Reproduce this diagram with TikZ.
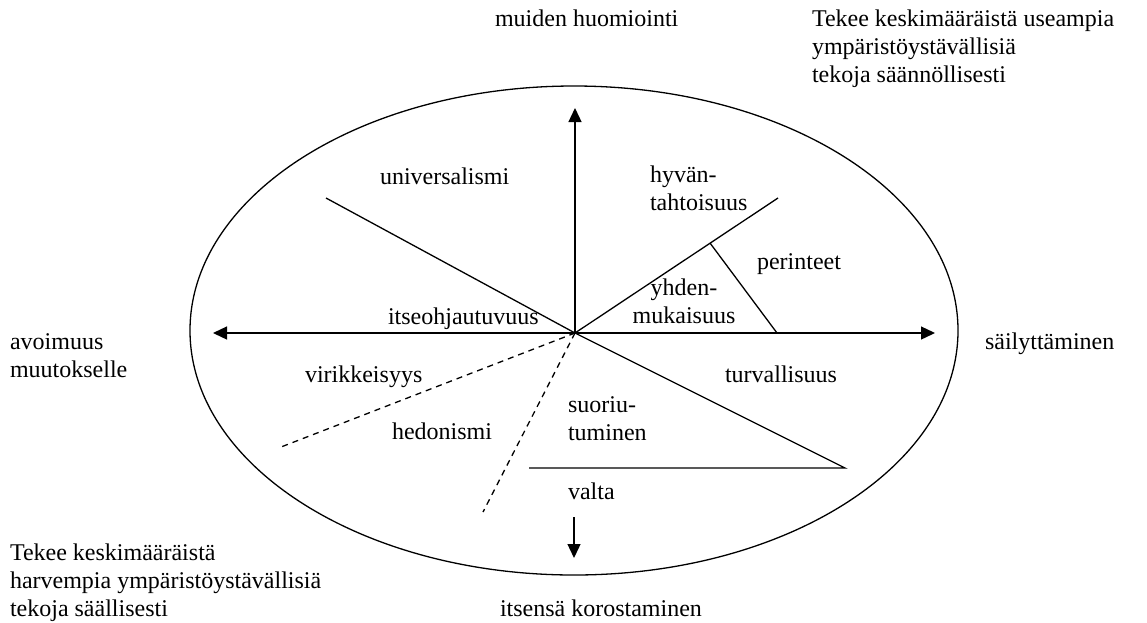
\documentclass[tikz,border=0pt]{standalone}
\usepackage{fontspec}
\setmainfont{Liberation Serif}
\usetikzlibrary{arrows.meta}
\begin{document}
\begin{tikzpicture}[x=1pt,y=-1pt,
  every node/.style={inner sep=0pt,outer sep=0pt,font=\fontsize{24}{28}\selectfont},
  lbl/.style={anchor=base west,align=left},
  axis/.style={line width=1.3pt,-{Triangle[length=14pt,width=13pt]}},
  divider/.style={line width=1.3pt},
  dashdiv/.style={line width=1.3pt,dash pattern=on 6pt off 5pt}]
\useasboundingbox (0,0) rectangle (1147,622);

% outer ellipse
\draw[line width=1.3pt] (574,330.5) ellipse [x radius=384, y radius=244.5];

% centre and end points of the axes and dividers
\coordinate (O) at (575,333);
\coordinate (up) at (575,108);
\coordinate (right) at (935,333);
\coordinate (left) at (213,333);
\coordinate (downA) at (574,517);
\coordinate (downB) at (574,558);
\coordinate (nw) at (326,198);
\coordinate (ne) at (778,198);
\coordinate (pa) at (710,243);
\coordinate (pb) at (777,333);
\coordinate (se) at (845,468);
\coordinate (hl) at (529,468);
\coordinate (d1) at (281,447);
\coordinate (d2) at (483,512);

% axes
\draw[axis] (O) -- (up);
\draw[axis] (O) -- (right);
\draw[axis] (O) -- (left);
\draw[axis] (downA) -- (downB);

% sector dividers
\draw[divider] (O) -- (nw);
\draw[divider] (O) -- (ne);
\draw[divider] (pa) -- (pb);
\draw[divider] (O) -- (se) -- (hl);
\draw[dashdiv] (O) -- (d1);
\draw[dashdiv] (O) -- (d2);

% axis labels (multi-line labels are placed by the baseline of their last line)
\node[lbl] (care) at (495,26) {muiden huomiointi};
\node[lbl] (more) at (812,82) {Tekee keskimääräistä useampia\\ympäristöystävällisiä\\tekoja säännöllisesti};
\node[lbl] (open) at (10,377) {avoimuus\\muutokselle};
\node[lbl] (cons) at (985,349) {säilyttäminen};
\node[lbl] (less) at (10,616) {Tekee keskimääräistä\\harvempia ympäristöystävällisiä\\tekoja säällisesti};
\node[lbl] (self) at (500,616) {itsensä korostaminen};

% value labels
\node[lbl] (univ) at (380,184) {universalismi};
\node[lbl] (bene) at (650,210) {hyvän-\\tahtoisuus};
\node[lbl] (trad) at (757,269) {perinteet};
\node[anchor=base,align=center] (conf) at (684,323) {yhden-\\mukaisuus};
\node[lbl] (sdir) at (388,324) {itseohjautuvuus};
\node[lbl] (stim) at (305,382) {virikkeisyys};
\node[lbl] (hedo) at (392,439) {hedonismi};
\node[lbl] (secu) at (725,382) {turvallisuus};
\node[lbl] (achi) at (568,440) {suoriu-\\tuminen};
\node[lbl] (powr) at (568,499) {valta};
\end{tikzpicture}
\end{document}
